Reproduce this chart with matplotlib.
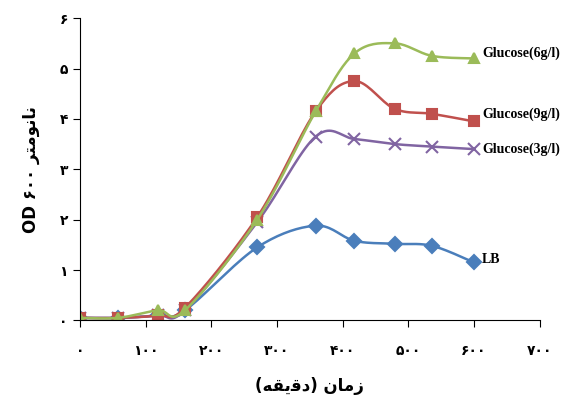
import numpy as np
import matplotlib
matplotlib.use("Agg")
import matplotlib.pyplot as plt

time_min = [0, 58, 119, 160, 270, 359, 418, 479, 536, 600]
lb = [0.05, 0.05, 0.1, 0.2, 1.45, 1.88, 1.58, 1.52, 1.48, 1.15]
glu6 = [0.05, 0.05, 0.2, 0.2, 2.0, 4.15, 5.3, 5.5, 5.25, 5.2]
glu9 = [0.05, 0.05, 0.1, 0.25, 2.05, 4.15, 4.75, 4.2, 4.1, 3.95]
glu3 = [0.05, 0.05, 0.1, 0.2, 1.95, 3.65, 3.6, 3.5, 3.45, 3.4]

fa = str.maketrans("0123456789", "۰۱۲۳۴۵۶۷۸۹")
xticks = [0, 100, 200, 300, 400, 500, 600, 700]
yticks = [0, 1, 2, 3, 4, 5, 6]


def smooth(x, y, n=20):
    # Catmull-Rom curve through the points (like Excel smoothed lines)
    x = np.asarray(x, float); y = np.asarray(y, float)
    px = np.concatenate([[x[0]], x, [x[-1]]]); py = np.concatenate([[y[0]], y, [y[-1]]])
    xs, ys = [], []
    for i in range(1, len(px) - 2):
        t = np.linspace(0, 1, n)[:, None]
        P = np.array([[px[j], py[j]] for j in range(i - 1, i + 3)])
        c = 0.5 * ((2 * P[1]) + (-P[0] + P[2]) * t + (2 * P[0] - 5 * P[1] + 4 * P[2] - P[3]) * t**2
                   + (-P[0] + 3 * P[1] - 3 * P[2] + P[3]) * t**3)
        xs.append(c[:, 0]); ys.append(c[:, 1])
    return np.concatenate(xs), np.concatenate(ys)


fig, ax = plt.subplots(figsize=(5.7, 4.03), dpi=100)
series = [
    (lb, "#4a7ebb", "D", "LB", 0.05),
    (glu3, "#8064a2", "x", "Glucose(3g/l)", 0.0),
    (glu9, "#c0504d", "s", "Glucose(9g/l)", 0.15),
    (glu6, "#9bbb59", "^", "Glucose(6g/l)", 0.1),
]
for y, col, mk, name, dy in series:
    sx, sy = smooth(time_min, y)
    ax.plot(sx, sy, color=col, lw=1.8)
    ax.plot(time_min, y, ls="none", marker=mk, color=col, ms=7 if mk != "x" else 8, mew=1.5)
    ax.text(time_min[-1] + 12, y[-1] + dy, name, family="Liberation Serif", fontsize=10,
            fontweight="bold", va="center", ha="left")

ax.set_xlim(0, 700)
ax.set_ylim(0, 6)
ax.set_xticks(xticks)
ax.set_xticklabels([str(v).translate(fa) for v in xticks], fontsize=10, fontweight="bold")
ax.set_yticks(yticks)
ax.set_yticklabels([str(v).translate(fa) for v in yticks], fontsize=10, fontweight="bold")
ax.tick_params(direction="out", length=5)
ax.tick_params(axis="x", pad=12)
for s in ["top", "right"]:
    ax.spines[s].set_visible(False)

# Arabic script pre-shaped into presentation forms (visual order)
xlab = "(" + "\uFEEA\uFED8\uFBFE\uFED7\uFEA9" + ") " + "\uFEE5\uFE8E\uFEE3\uFEAF"
ylab = "OD " + "600".translate(fa) + " " + "\uFEAE\uFE98\uFEE3\uFEEE\uFEE7\uFE8E\uFEE7"
ax.set_xlabel(xlab, fontsize=12, fontweight="bold", family=["DejaVu Sans"], labelpad=14)
ax.set_ylabel(ylab, fontsize=12, fontweight="bold", family=["DejaVu Sans"], labelpad=14)

fig.subplots_adjust(left=0.14, right=0.947, bottom=0.205, top=0.955)
fig.savefig("out.png")
